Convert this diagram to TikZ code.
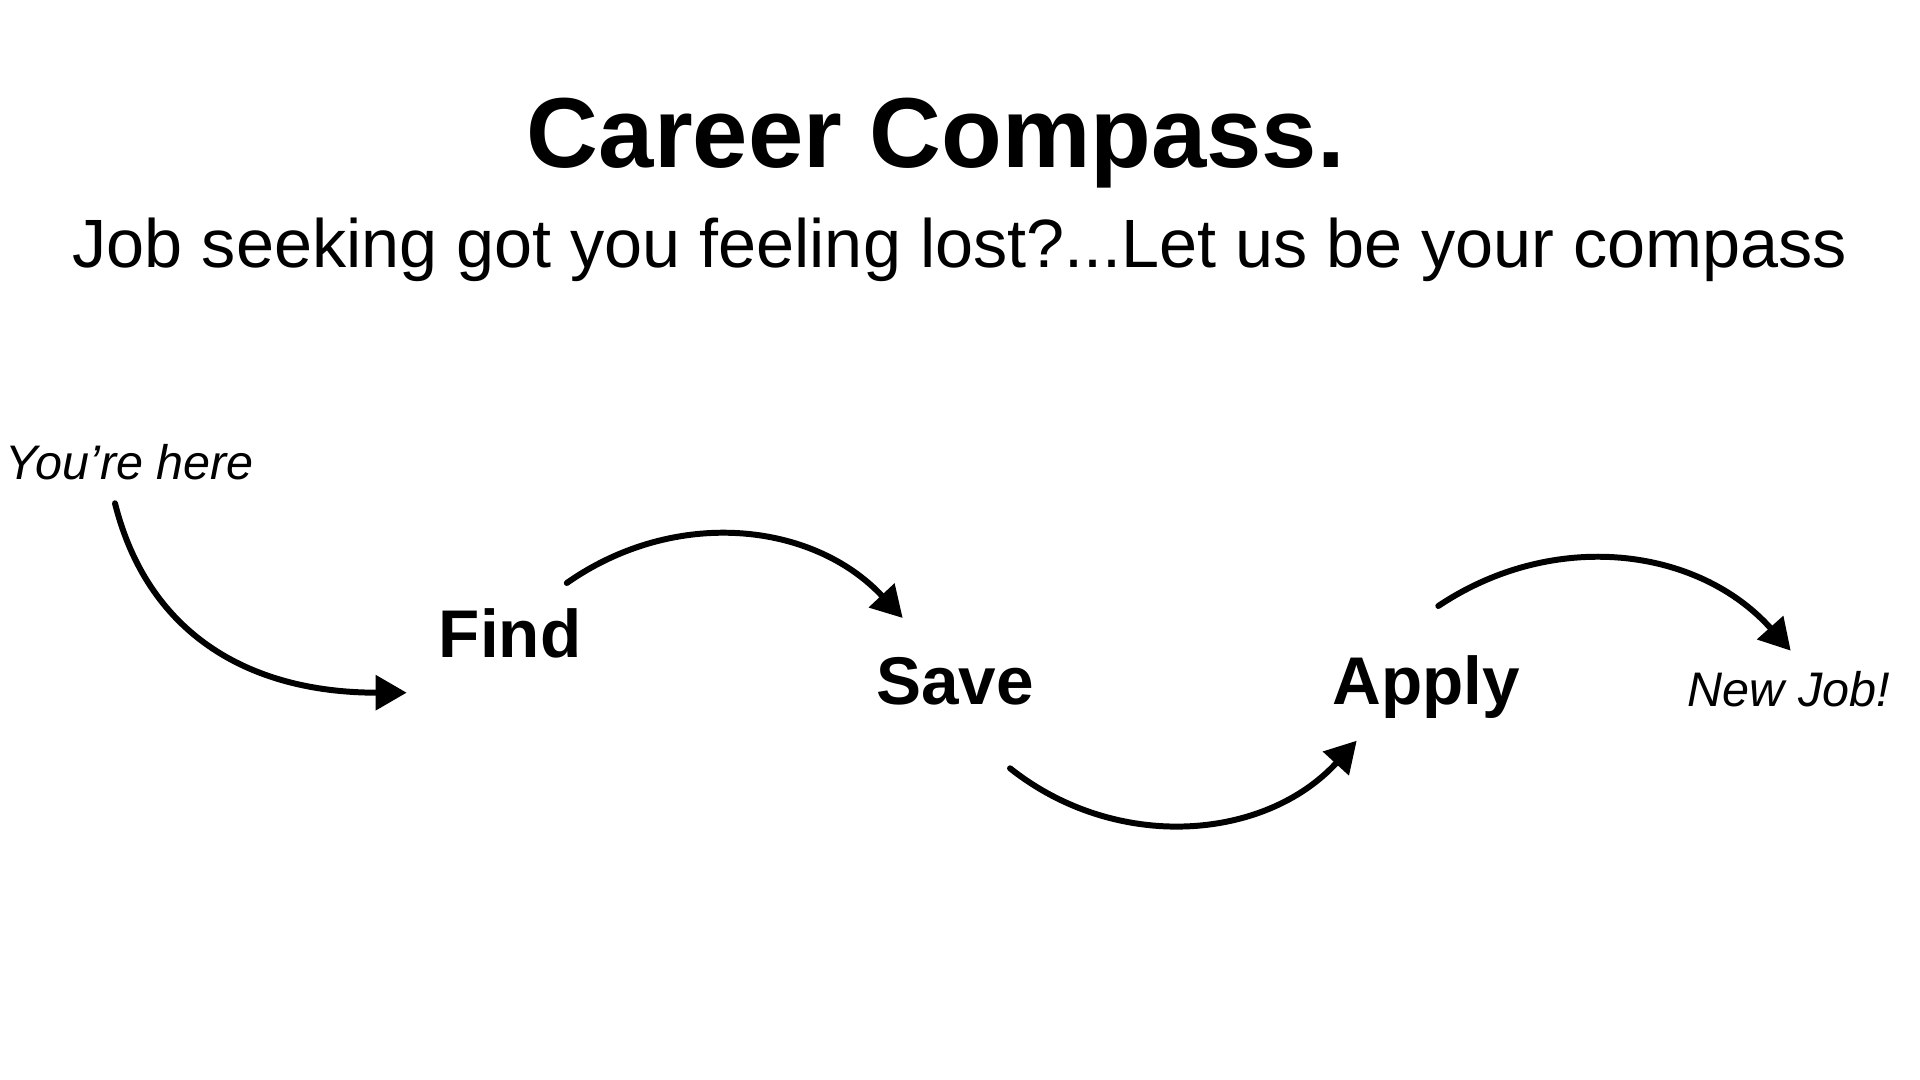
\documentclass[tikz,border=0pt]{standalone}
\usepackage{fontspec}
\setmainfont{Liberation Sans}
\usetikzlibrary{arrows.meta}

\begin{document}
\begin{tikzpicture}[line width=1.7pt,
    heading/.style={anchor=base, inner sep=0pt, font=\fontsize{28.3pt}{34pt}\selectfont\bfseries},
    tagline/.style={anchor=base, inner sep=0pt, font=\fontsize{19.45pt}{23pt}\selectfont},
    stage/.style={anchor=base, inner sep=0pt, font=\fontsize{19.2pt}{23pt}\selectfont\bfseries},
    aside/.style={anchor=base, inner sep=0pt, font=\fontsize{13.8pt}{16pt}\selectfont\itshape},
    flow/.style={-{Triangle[length=3.1mm, width=3.4mm]}, line cap=round}]
    \useasboundingbox (0, 0) rectangle (19.2, 10.8);
    \node[heading] (title) at (9.36, 9.12) {Career Compass.};
    \node[tagline] (sub) at (9.60, 8.12) {Job seeking got you feeling lost?...Let us be your compass};
    \node[aside] (you) at (1.30, 6.00) {You’re here};
    \node[stage] (find) at (5.10, 4.22) {Find};
    \node[stage] (save) at (9.55, 3.75) {Save};
    \node[stage] (apply) at (14.26, 3.75) {Apply};
    \node[aside] (job) at (17.89, 3.73) {New Job!};
    \draw[flow] ([shift={(-0.15, -0.233)}]you.base) .. controls +(0.32, -1.28) and +(-1.61, 0) .. ([shift={(-1.033, -0.347)}]find.base);
    \draw[flow] ([shift={(0.568, 0.75)}]find.base) to[bend left=41] ([shift={(-0.523, 0.87)}]save.base);
    \draw[flow] ([shift={(0.55, -0.633)}]save.base) to[bend right=43] ([shift={(-0.693, -0.357)}]apply.base);
    \draw[flow] ([shift={(0.123, 0.99)}]apply.base) to[bend left=41] ([shift={(0.017, 0.563)}]job.base);
\end{tikzpicture}
\end{document}
